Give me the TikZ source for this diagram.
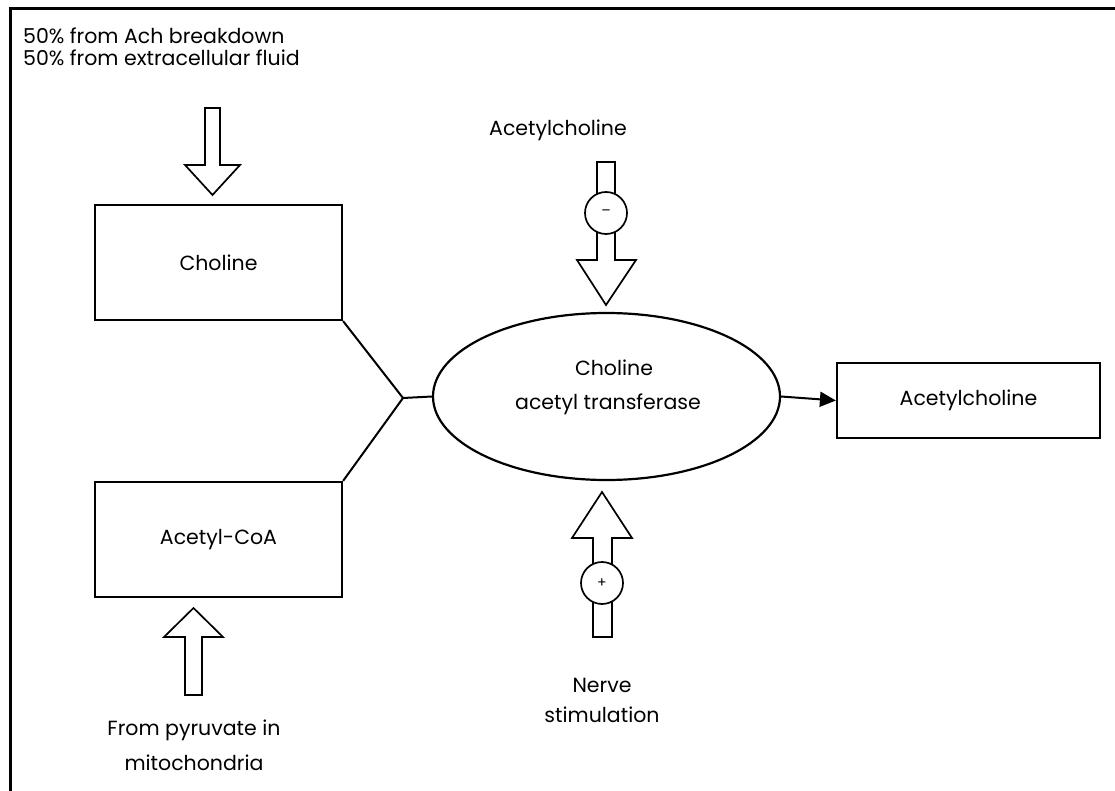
\documentclass[tikz,border=0pt]{standalone}
\usepackage{fontspec}
\setmainfont{Poppins}
\usetikzlibrary{shapes.geometric,arrows.meta}
\begin{document}
\begin{tikzpicture}[x=1pt,y=-1pt,
  txt/.style={font=\fontsize{20.5}{24}\selectfont,inner sep=0pt},
  box/.style={draw,line width=2.2pt,inner sep=0pt,txt},
  blk/.style={draw,line width=1.7pt,fill=white,line join=miter},
  ring/.style={circle,draw,line width=1.7pt,fill=white,minimum size=42pt,inner sep=0pt,font=\fontsize{14}{14}\selectfont},
  link/.style={line width=2pt}]
\useasboundingbox (0,0) rectangle (1115,791);
\draw[line width=3pt] (10,791) -- (10,9) -- (1115,9);

% top-left source text
\node[txt,anchor=base west] (src1) at (23,44) {50\% from Ach breakdown};
\node[txt,anchor=base west] (src2) at (23,66) {50\% from extracellular fluid};

% boxes
\node[box,minimum width=247pt,minimum height=115pt] (choline) at (218.5,262.5) {Choline};
\node[box,minimum width=247pt,minimum height=115pt] (acoa) at (218.5,539.5) {Acetyl-CoA};
\node[ellipse,draw,line width=2.2pt,minimum width=347pt,minimum height=167pt,inner sep=0pt] (enz) at (606.5,396.5) {};
\node[txt,anchor=base] (enz1) at (614,375) {Choline};
\node[txt,anchor=base] (enz2) at (608,409) {acetyl transferase};
\node[box,minimum width=263pt,minimum height=75pt] (ach) at (968.5,400.5) {Acetylcholine};

% block arrow into Choline
\draw[blk] (205,108) -- (220,108) -- (220,165) -- (240,165) -- (212.5,195) -- (185,165) -- (205,165) -- cycle;

% block arrow into Acetyl-CoA
\draw[blk] (185,695) -- (202,695) -- (202,637) -- (223,637) -- (193.5,608) -- (164,637) -- (185,637) -- cycle;
\node[txt,anchor=base] (pyr1) at (194,735) {From pyruvate in};
\node[txt,anchor=base] (pyr2) at (194,770) {mitochondria};

% junction
\coordinate (jn) at (403,398);
\draw[link] (choline.south east) -- (jn);
\draw[link] (acoa.north east) -- (jn);
\draw[link] (jn) -- (enz.west);

% product arrow
\draw[link,-{Triangle[length=16pt,width=15pt]}] (enz.east) -- (ach.west);

% inhibitory input (top)
\node[txt,anchor=base] (achtop) at (558,136) {Acetylcholine};
\draw[blk] (597,194) -- (597,162) -- (615,162) -- (615,194);
\draw[blk] (597,232) -- (597,260) -- (577,260) -- (606,305) -- (636,260) -- (615,260) -- (615,232);
\node[ring] (inh) at (606,213) {–};

% stimulatory input (bottom)
\draw[blk] (593,565) -- (593,538) -- (572,538) -- (602,492) -- (632,538) -- (612,538) -- (612,565);
\draw[blk] (593,602) -- (593,637) -- (612,637) -- (612,602);
\node[ring] (stim) at (602,583) {+};
\node[txt,anchor=base] (nerve1) at (602,692) {Nerve};
\node[txt,anchor=base] (nerve2) at (602,722) {stimulation};
\end{tikzpicture}
\end{document}
